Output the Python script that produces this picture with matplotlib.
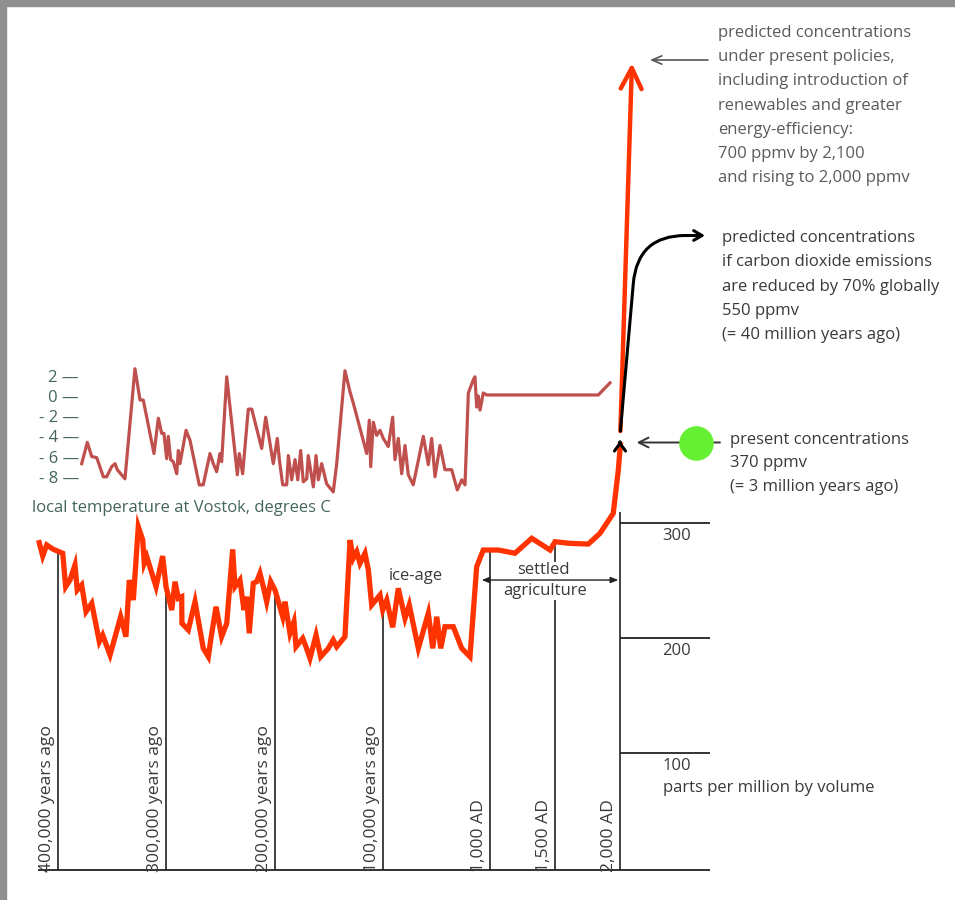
import numpy as np
import matplotlib.pyplot as plt
from matplotlib.patches import Rectangle

plt.rcParams['font.family'] = ['Open Sans', 'DejaVu Sans']

# Vostok local temperature, thousands of years before present / degrees C
temp_age_kyr = [378.2, 373.0, 368.9, 364.3, 358.2, 355.1, 350.5, 347.4, 345.3, 338.2,
                329.0, 324.3, 321.3, 311.4, 307.4, 304.3, 302.2, 299.7, 298.2, 296.0,
                293.6, 290.4, 288.9, 287.4, 281.8, 278.1, 269.6, 265.9, 259.7, 256.6,
                253.5, 250.4, 248.9, 244.2, 234.4, 232.6, 229.5, 224.3, 221.1, 211.9,
                208.2, 201.2, 197.5, 195.6, 192.5, 188.8, 187.3, 184.2, 181.1, 178.6,
                175.9, 173.5, 170.3, 168.9, 164.2, 161.7, 159.6, 156.5, 151.9, 145.8,
                142.6, 135.0, 130.3, 127.3, 114.9, 112.5, 111.2, 108.8, 105.7, 102.6,
                99.6, 95.0, 90.9, 88.8, 85.7, 82.6, 79.5, 76.5, 71.9, 62.6,
                58.0, 54.9, 51.8, 47.2, 42.6, 36.4, 31.2, 27.1, 24.1, 21.0,
                16.4, 14.9, 13.3, 11.8, 10.2, 7.2, 4.0]
temp_degc = [-6.5, -4.4, -5.8, -5.9, -7.8, -7.8, -6.8, -6.5, -7.1, -8.0,
             2.9, -0.2, -0.2, -5.5, -2.0, -3.5, -3.5, -6.0, -3.8, -6.1,
             -6.3, -7.5, -5.2, -6.5, -3.2, -4.2, -8.6, -8.6, -5.5, -6.5,
             -7.3, -5.5, -6.3, 2.1, -7.6, -5.5, -7.5, -1.1, -1.1, -5.0,
             -1.9, -6.5, -4.0, -6.1, -8.6, -8.6, -5.7, -8.1, -6.1, -8.1,
             -5.2, -8.3, -8.0, -5.7, -8.8, -5.7, -8.1, -6.5, -8.5, -9.3,
             -6.5, 2.7, 0.6, -0.5, -5.5, -2.2, -6.8, -2.4, -3.7, -3.2,
             -4.0, -4.8, -1.9, -6.1, -4.0, -7.5, -4.7, -7.6, -8.6, -3.8,
             -6.6, -4.0, -7.8, -4.7, -7.1, -7.1, -9.1, -8.1, -8.6, 0.5,
             1.8, 2.1, -0.9, 0.2, -1.2, 0.5, 0.3]
temp_recent_year = [1833, 1923]
temp_recent_degc = [0.3, 1.5]

# carbon dioxide, ppmv
co2_age_kyr = [417.4, 414.2, 410.5, 404.4, 395.7, 393.0, 389.0, 384.4, 382.3, 378.2,
               374.2, 368.9, 361.9, 358.8, 352.0, 342.2, 337.3, 334.2, 330.5, 325.9,
               321.8, 320.4, 318.1, 309.5, 303.4, 300.3, 295.0, 292.0, 288.9, 285.8,
               285.6, 279.7, 273.5, 265.9, 261.2, 259.0, 254.1, 248.9, 244.2, 238.7,
               236.6, 232.0, 228.3, 225.8, 223.4, 219.7, 216.5, 213.5, 210.4, 207.3,
               203.6, 199.6, 192.5, 190.4, 185.8, 182.1, 180.2, 174.0, 171.0, 167.3,
               161.7, 157.4, 150.4, 145.8, 142.6, 135.0, 130.3, 127.3, 124.1, 121.1,
               116.5, 113.4, 110.3, 102.6, 100.1, 96.4, 90.9, 85.7, 79.5, 75.6,
               67.2, 58.0, 53.9, 50.2, 46.5, 42.6, 34.9, 27.1, 19.5, 13.3, 7.2]
co2_ppmv = [282.9, 271.3, 280.9, 277.1, 273.7, 244.6, 250.4, 263.5, 241.7, 246.1,
            222.9, 230.2, 196.8, 202.6, 185.2, 218.5, 201.1, 250.4, 233.0, 296.8,
            285.2, 265.0, 270.7, 244.6, 271.3, 244.6, 224.3, 249.0, 234.5, 235.9,
            212.8, 207.0, 231.6, 191.0, 183.7, 198.3, 227.2, 201.1, 212.8, 277.1,
            244.6, 250.4, 224.3, 235.9, 204.1, 247.6, 249.0, 256.3, 244.6, 231.6,
            249.0, 241.7, 218.5, 231.6, 204.1, 214.2, 192.4, 199.7, 192.4, 182.3,
            202.6, 183.7, 191.0, 198.3, 192.4, 201.1, 285.2, 269.3, 275.0, 265.0,
            273.7, 259.1, 228.7, 237.4, 224.3, 233.0, 209.3, 243.2, 217.1, 228.7,
            191.0, 221.5, 191.0, 218.5, 191.0, 209.8, 209.8, 191.0, 183.7, 262.0, 276.5]
co2_recent_year = [1064, 1192, 1321, 1462, 1500, 1615, 1756, 1846, 1948, 1987, 2003]
co2_recent_ppmv = [276.5, 273.7, 286.7, 276.5, 283.7, 282.3, 281.7, 291.0, 308.4, 346.1, 368.0]

# projections
proj_start = (2003, 380)
proj_policy_end = (2092, 700)
proj_cut_end = (2654, 550)
present_ppmv = 370
agriculture_span = (-6700, 1987)

marker_years = [-398000, -298000, -198000, -98000, 1000, 1500, 2000]
marker_labels = ["400,000 years ago", "300,000 years ago", "200,000 years ago",
                 "100,000 years ago", "1,000 AD", "1,500 AD", "2,000 AD"]
ppm_ticks = [300, 200, 100]
temp_ticks = [2, 0, -2, -4, -6, -8]
temp_tick_labels = ["2 —", "0 —", "- 2 —", "- 4 —", "- 6 —", "- 8 —"]

RED = '#ff3300'
TEMP = '#c0504d'
INK = '#3a3a3a'
TEAL = '#44665c'


# piecewise time axis: compressed ice-core part, stretched historic part
def fwd(x):
    x = np.asarray(x, dtype=float)
    return np.where(x < 1000, 490 - (1000 - x) * 0.0010825, 490 + (x - 1000) * 0.13)


def inv(p):
    p = np.asarray(p, dtype=float)
    return np.where(p < 490, 1000 - (490 - p) / 0.0010825, 1000 + (p - 490) / 0.13)


fig = plt.figure(figsize=(9.55, 9.0), dpi=100)
fig.patch.set_facecolor('white')
ax = fig.add_axes([0, 0, 1, 1])
ax.set_xscale('function', functions=(fwd, inv))
ax.set_xlim(float(inv(0)), float(inv(955)))
ax.set_ylim((868 - 900) / 1.15, 868 / 1.15)
ax.axis('off')

ax_t = ax.twinx()
ax_t.set_ylim((398 - 900) / 10.1, 398 / 10.1)
ax_t.axis('off')

co2_x = np.concatenate([2000 - np.array(co2_age_kyr) * 1000, co2_recent_year])
co2_y = np.concatenate([co2_ppmv, co2_recent_ppmv])
temp_x = np.concatenate([2000 - np.array(temp_age_kyr) * 1000, temp_recent_year])
temp_y = np.concatenate([temp_degc, temp_recent_degc])

baseline = -1.7
ax.hlines(baseline, -416500, 2692, color='#222', lw=1.3)

# time markers hang from the curve
for yr, lab in zip(marker_years, marker_labels):
    top = float(np.interp(yr, co2_x, co2_y))
    if yr == 1500:
        ax.vlines(yr, 266, top, color='#222', lw=1.2)
        ax.vlines(yr, baseline, 233, color='#222', lw=1.2)
    elif yr == 2000:
        ax.vlines(yr, baseline, 310, color='#222', lw=1.2)
    else:
        ax.vlines(yr, baseline, top, color='#222', lw=1.2)
    ax.annotate(lab, xy=(yr, baseline), xytext=(-2.2, -1.5), textcoords='offset points',
                rotation=90, ha='right', va='bottom', fontsize=12.6, color=INK)

# ppmv scale
for v in ppm_ticks:
    ax.hlines(v, 2000, 2692, color='#222', lw=1.3)
    ax.text(2438, v - 11.7, str(v), ha='center', va='center', fontsize=12, color=INK)
ax.text(2331, 70, "parts per million by volume", ha='left', va='center',
        fontsize=12, color=INK)

# curves
ax.plot(co2_x, co2_y, color=RED, lw=3.8, solid_joinstyle='miter', zorder=4)
ax_t.plot(temp_x, temp_y, color=TEMP, lw=2.3, zorder=4)

ax.annotate('', xy=proj_policy_end, xytext=proj_start,
            arrowprops=dict(arrowstyle='->,head_length=1.5,head_width=0.75', lw=3.2,
                            color=RED, shrinkA=0, shrinkB=0), zorder=5)
ax.annotate('', xy=proj_cut_end, xytext=proj_start,
            arrowprops=dict(arrowstyle='->,head_length=0.6,head_width=0.35', lw=2.2,
                            color='black', shrinkA=0, shrinkB=0,
                            connectionstyle='angle,angleA=85,angleB=0,rad=48'), zorder=5)
ax.annotate('', xy=(2000, present_ppmv + 1.5), xytext=(2000, present_ppmv),
            arrowprops=dict(arrowstyle='->,head_length=0.55,head_width=0.4', lw=2.2,
                            color='black', shrinkA=0, shrinkB=0), zorder=6)

# settled agriculture
ax.annotate('', xy=(agriculture_span[1], 250.4), xytext=(agriculture_span[0], 250.4),
            arrowprops=dict(arrowstyle='<|-|>,head_length=0.45,head_width=0.18', lw=1.0,
                            color='#222', shrinkA=0, shrinkB=0))
ax.text(1410, 259, "settled", ha='center', va='center', fontsize=12, color=INK)
ax.text(1423, 240.9, "agriculture", ha='center', va='center', fontsize=12, color=INK)
ax.text(-67400, 253.9, "ice-age", ha='center', va='center', fontsize=12, color=INK)

# temperature labels
for t, lab in zip(temp_ticks, temp_tick_labels):
    ax_t.text(-378700, t, lab, ha='right', va='center', fontsize=12, color=TEAL)
ax_t.text(-422000, -10.9, "local temperature at Vostok, degrees C", ha='left',
          va='center', fontsize=12, color=TEAL)


def text_block(x, y0, step, lines, color):
    for i, line in enumerate(lines):
        ax.text(x, y0 - i * step, line, ha='left', va='center', fontsize=12, color=color)


ax.annotate('', xy=(2231, 702.6), xytext=(2677, 702.6),
            arrowprops=dict(arrowstyle='->,head_length=0.7,head_width=0.3', lw=1.2,
                            color='#555', shrinkA=0, shrinkB=0))
text_block(2754, 726.1, 21.04,
           ["predicted concentrations", "under present policies,",
            "including introduction of", "renewables and greater",
            "energy-efficiency:", "700 ppmv by 2,100", "and rising to 2,000 ppmv"],
           '#5a5a5a')
text_block(2782, 547.8, 21.1,
           ["predicted concentrations", "if carbon dioxide emissions",
            "are reduced by 70% globally", "550 ppmv", "(= 40 million years ago)"],
           INK)

ax.annotate('', xy=(2128, present_ppmv), xytext=(2769, present_ppmv),
            arrowprops=dict(arrowstyle='->,head_length=0.7,head_width=0.35', lw=1.4,
                            color='#333', shrinkA=0, shrinkB=0))
ax.scatter([2582], [present_ppmv], s=620, color='#66f033', zorder=6, linewidths=0)
text_block(2846, 372.2, 20.4,
           ["present concentrations", "370 ppmv", "(= 3 million years ago)"], INK)

# grey frame on top and left
fig.patches.append(Rectangle((0, 1 - 6 / 900), 1, 6 / 900, transform=fig.transFigure,
                             color='#8f8f8f', zorder=10))
fig.patches.append(Rectangle((0, 0), 6 / 955, 1, transform=fig.transFigure,
                             color='#8f8f8f', zorder=10))

fig.savefig('out.png', dpi=100, facecolor='white')
